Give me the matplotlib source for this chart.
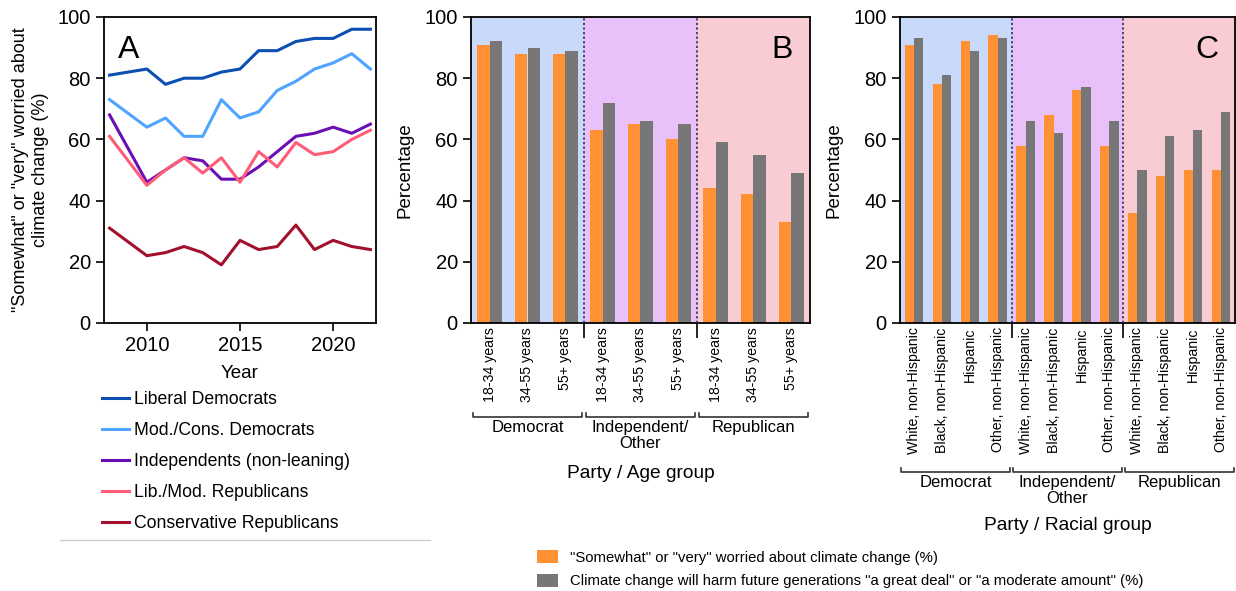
import matplotlib
matplotlib.use("Agg")
import matplotlib.pyplot as plt
from matplotlib.lines import Line2D
from matplotlib.patches import Patch
import matplotlib.transforms as mtransforms

plt.rcParams['font.family'] = ['Liberation Sans', 'DejaVu Sans']

# panel A: worry over time by party / ideology
years = [2008, 2010, 2011, 2012, 2013, 2014, 2015, 2016, 2017, 2018, 2019, 2020, 2021, 2022]
lib_dem = [81, 83, 78, 80, 80, 82, 83, 89, 89, 92, 93, 93, 96, 96]
mod_dem = [73, 64, 67, 61, 61, 73, 67, 69, 76, 79, 83, 85, 88, 83]
indep = [68, 46, 50, 54, 53, 47, 47, 51, 56, 61, 62, 64, 62, 65]
lib_rep = [61, 45, 50, 54, 49, 54, 46, 56, 51, 59, 55, 56, 60, 63]
cons_rep = [31, 22, 23, 25, 23, 19, 27, 24, 25, 32, 24, 27, 25, 24]
series_names = ["Liberal Democrats", "Mod./Cons. Democrats", "Independents (non-leaning)",
                "Lib./Mod. Republicans", "Conservative Republicans"]
series_colors = ["#0b4fb3", "#4ea4ff", "#6a0fb5", "#ff5c78", "#a3102c"]

# panels B and C
parties = ["Democrat", "Independent/\nOther", "Republican"]
party_bg = ["#c9d9f9", "#e8c1fb", "#f9ccd4"]
age_groups = ["18-34 years", "34-55 years", "55+ years"]
age_worried = [91, 88, 88, 63, 65, 60, 44, 42, 33]
age_harm = [92, 90, 89, 72, 66, 65, 59, 55, 49]
race_groups = ["White, non-Hispanic", "Black, non-Hispanic", "Hispanic", "Other, non-Hispanic"]
race_worried = [91, 78, 92, 94, 58, 68, 76, 58, 36, 48, 50, 50]
race_harm = [93, 81, 89, 93, 66, 62, 77, 66, 50, 61, 63, 69]

orange = "#ff9034"
grey = "#777777"

W, H = 1236, 591
fig = plt.figure(figsize=(W / 100, H / 100), dpi=100)


def box(x0, x1, y0, y1):
    return [x0 / W, 1 - y1 / H, (x1 - x0) / W, (y1 - y0) / H]


axA = fig.add_axes(box(104, 376, 17, 323))
axB = fig.add_axes(box(471, 810, 17, 323))
axC = fig.add_axes(box(900, 1235, 17, 323))

# --- A ---
for vals, name, col in zip([lib_dem, mod_dem, indep, lib_rep, cons_rep], series_names, series_colors):
    axA.plot(years, vals, color=col, lw=2.2, label=name)
axA.set_xlim(2007.7, 2022.3)
axA.set_ylim(0, 100)
axA.set_yticks(range(0, 101, 20))
axA.set_xticks([2010, 2015, 2020])
axA.tick_params(labelsize=14.5, length=6, width=1.2)
axA.set_xlabel("Year", fontsize=13.5, labelpad=7)
axA.set_ylabel('"Somewhat" or "very" worried about\nclimate change (%)', fontsize=13, labelpad=6)
axA.text(0.05, 0.94, "A", transform=axA.transAxes, fontsize=23, va="top")
for s in axA.spines.values():
    s.set_linewidth(1.3)
axA.legend(loc="upper left", bbox_to_anchor=(102 / W, 1 - 391 / H), bbox_transform=fig.transFigure,
           frameon=False, fontsize=12.7, handlelength=1.55, handletextpad=0.25, labelspacing=0.8,
           borderaxespad=0, borderpad=0)
fig.add_artist(Line2D([60 / W, 430 / W], [1 - 540 / H] * 2, color="#cccccc", lw=1))


def bar_panel(ax, groups, worried, harm, letter, xlabel, brk_y, lab_y, xlab_y):
    n = len(groups)
    total = n * len(parties)
    idx = list(range(total))
    w = 0.33
    for k, col in enumerate(party_bg):
        ax.axvspan(k * n - 0.5, (k + 1) * n - 0.5, color=col, lw=0, zorder=0)
    ax.bar([i - w / 2 for i in idx], worried, width=w, color=orange, zorder=2)
    ax.bar([i + w / 2 for i in idx], harm, width=w, color=grey, zorder=2)
    for k in range(1, len(parties)):
        ax.axvline(k * n - 0.5, color="#2a1f45", ls=(0, (1.5, 1.5)), lw=1.1, zorder=3)
    ax.set_xlim(-0.5, total - 0.5)
    ax.set_ylim(0, 100)
    ax.set_yticks(range(0, 101, 20))
    ax.set_xticks(idx)
    ax.set_xticklabels(groups * len(parties), rotation=90, fontsize=10.2)
    ax.tick_params(axis="x", length=0, pad=3)
    ax.set_xticks([k * n - 0.5 for k in range(1, len(parties))], minor=True)
    ax.tick_params(axis="x", which="minor", length=11, width=1.2)
    ax.tick_params(axis="y", labelsize=14.5, length=6, width=1.2)
    ax.set_ylabel("Percentage", fontsize=13.5, labelpad=8)
    for s in ax.spines.values():
        s.set_linewidth(1.3)
    ax.text(0.95, 0.94, letter, transform=ax.transAxes, fontsize=23, va="top", ha="right")
    trans = mtransforms.blended_transform_factory(ax.transData, ax.transAxes)
    for k, name in enumerate(parties):
        x0 = k * n - 0.45
        x1 = (k + 1) * n - 0.55
        ax.plot([x0, x0, x1, x1], [brk_y + 0.012, brk_y, brk_y, brk_y + 0.012], color="#333333",
                lw=1.2, transform=trans, clip_on=False)
        ax.text((x0 + x1) / 2, lab_y, name, transform=trans, ha="center", va="top",
                fontsize=12, linespacing=1.05)
    ax.text(0.5, xlab_y, xlabel, transform=ax.transAxes, ha="center", va="center", fontsize=13.8)


bar_panel(axB, age_groups, age_worried, age_harm, "B", "Party / Age group",
          -(417 - 323) / 306, -(420 - 323) / 306, -(473 - 323) / 306)
bar_panel(axC, race_groups, race_worried, race_harm, "C", "Party / Racial group",
          -(472 - 323) / 306, -(475 - 323) / 306, -(526 - 323) / 306)

handles = [Patch(facecolor=orange), Patch(facecolor=grey)]
labels = ['"Somewhat" or "very" worried about climate change (%)',
          'Climate change will harm future generations "a great deal" or "a moderate amount" (%)']
fig.legend(handles, labels, loc="upper left", bbox_to_anchor=(537 / W, 1 - 550 / H), frameon=False,
           fontsize=10.7, handlelength=1.4, handleheight=1.0, handletextpad=0.8, labelspacing=0.6,
           borderaxespad=0, borderpad=0)

fig.savefig("out.png", dpi=100)
